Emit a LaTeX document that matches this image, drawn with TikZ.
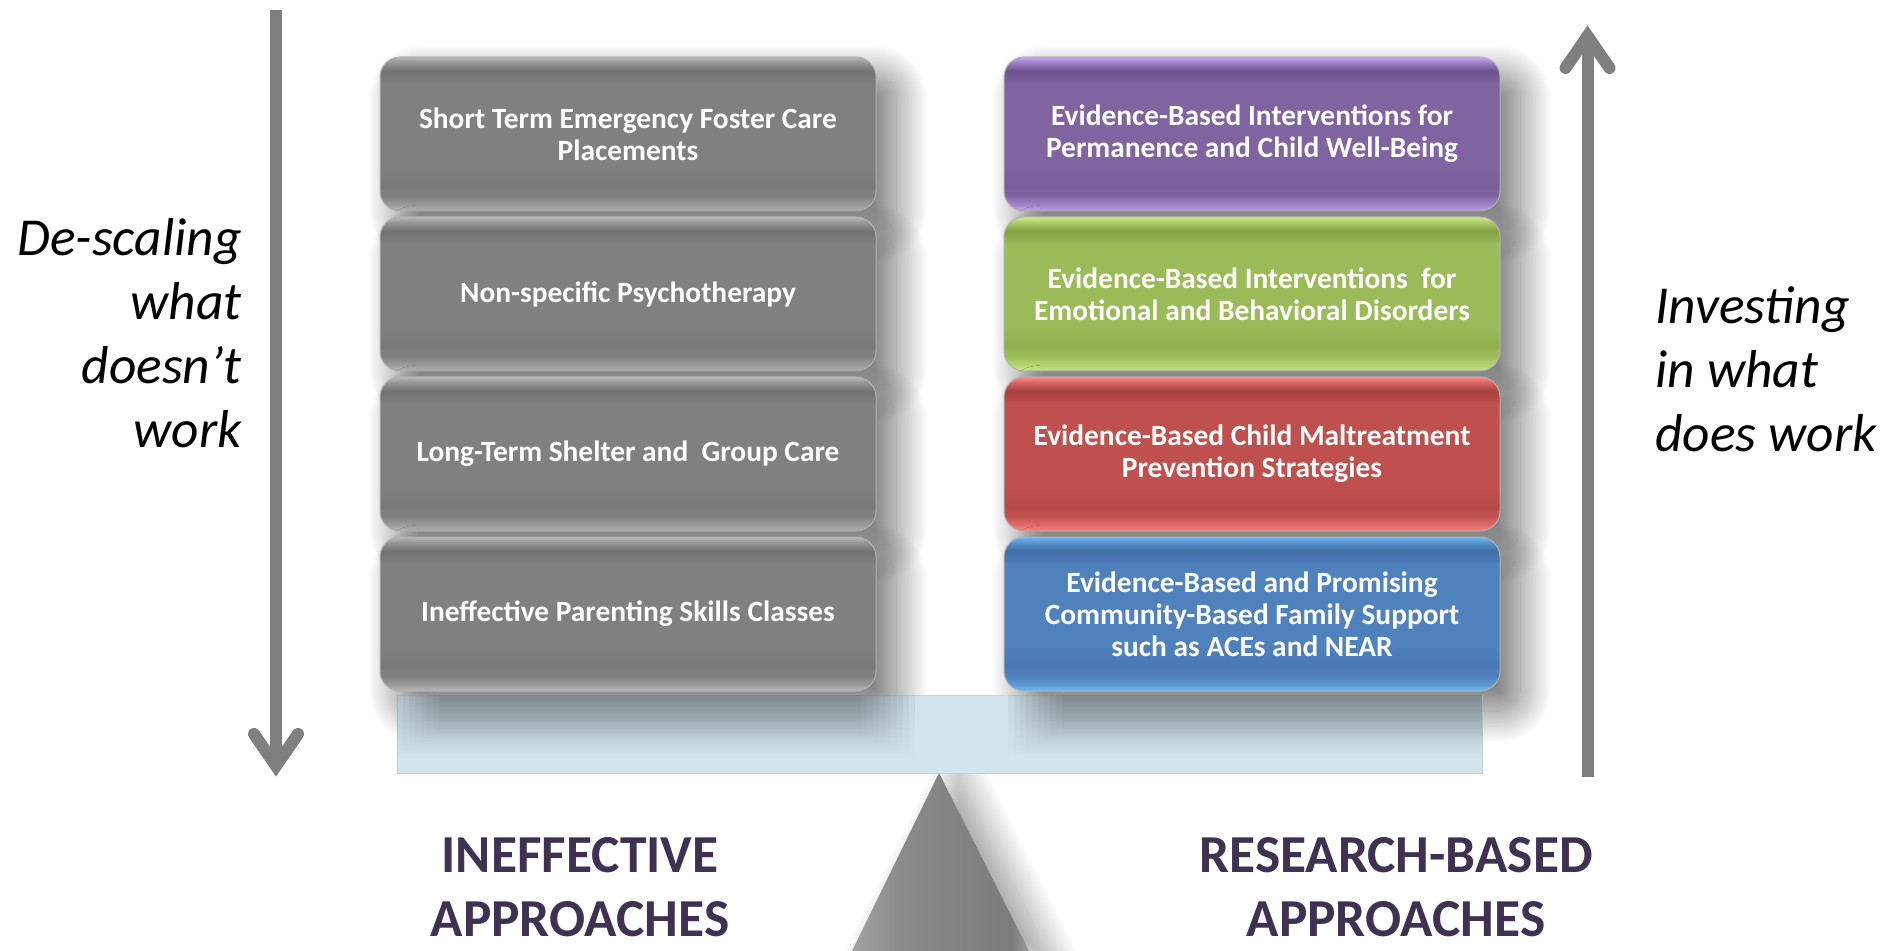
\documentclass[tikz,border=0pt]{standalone}
\usepackage{fontspec}
\setmainfont{Carlito}
\usetikzlibrary{shadows.blur,fadings}
\definecolor{arrowgray}{HTML}{7F7F7F}
\definecolor{labelpurple}{HTML}{3F3151}
\definecolor{beamblue}{HTML}{D3E4EB}
\definecolor{beamshadow}{HTML}{3E4548}
% glass colours: base, dark, rim
\definecolor{gBase}{HTML}{808080}\definecolor{gDark}{HTML}{717171}\definecolor{gRim}{HTML}{B8B8B8}
\definecolor{pBase}{HTML}{8064A2}\definecolor{pDark}{HTML}{6F5391}\definecolor{pRim}{HTML}{C8A8F8}
\definecolor{vBase}{HTML}{9BBB59}\definecolor{vDark}{HTML}{86A142}\definecolor{vRim}{HTML}{D2EE8C}
\definecolor{rBase}{HTML}{C0504D}\definecolor{rDark}{HTML}{A9403D}\definecolor{rRim}{HTML}{FF8A86}
\definecolor{bBase}{HTML}{4F81BD}\definecolor{bDark}{HTML}{406DA6}\definecolor{bRim}{HTML}{6CB8F2}
\newcommand\defglass[4]{%
  \pgfdeclareverticalshading{#1}{100bp}{color(0bp)=(#4); color(25bp)=(#4);
    color(27bp)=(#4!50!#2); color(30bp)=(#2); color(33bp)=(#3!40!#2);
    color(40bp)=(#2); color(66bp)=(#2); color(70.5bp)=(#3);
    color(73.3bp)=(#4!55!#3); color(75bp)=(#4); color(100bp)=(#4)}}
\defglass{glassgray}{gBase}{gDark}{gRim}
\defglass{glasspurple}{pBase}{pDark}{pRim}
\defglass{glassgreen}{vBase}{vDark}{vRim}
\defglass{glassred}{rBase}{rDark}{rRim}
\defglass{glassblue}{bBase}{bDark}{bRim}
\definecolor{py1}{HTML}{A2A2A2}\definecolor{py2}{HTML}{8C8C8C}
\definecolor{py3}{HTML}{848484}\definecolor{py4}{HTML}{7C7C7C}\definecolor{py5}{HTML}{9C9C9C}
\pgfdeclarehorizontalshading{pyramid}{100bp}{color(0bp)=(py1); color(25bp)=(py1);
  color(38bp)=(py2); color(50bp)=(py3); color(70bp)=(py4); color(75bp)=(py5); color(100bp)=(py5)}
\begin{document}
\begin{tikzpicture}[x=0.5pt,y=-0.5pt,
  box/.style={shape=rectangle, rounded corners=10pt, minimum width=248pt,
    minimum height=77pt, inner sep=0pt, align=center, text=white,
    font=\bfseries\fontsize{14.7}{15.9}\selectfont, draw=black!30,
    line width=0.5pt, shading=#1,
    blur shadow={shadow xshift=10pt, shadow yshift=-10pt, shadow blur radius=16pt,
      shadow blur steps=40, shadow opacity=55}},
  beamstyle/.style={shape=rectangle, fill=beamblue, draw=beamblue!92!black,
    line width=0.4pt, minimum width=542.5pt, minimum height=39pt, inner sep=0pt},
  beamshade/.style={fill=beamshadow, fill opacity=0.075, path fading=south},
  side/.style={font=\itshape\fontsize{26.7}{32}\selectfont, text=black, inner sep=0pt},
  bottomlab/.style={font=\bfseries\fontsize{26.7}{32}\selectfont, text=labelpurple,
    align=center, inner sep=0pt},
  shaft/.style={draw=arrowgray, line width=6pt},
  chevron/.style={draw=arrowgray, line width=6pt, line cap=round, line join=miter}
]
\useasboundingbox (0,0) rectangle (1888,951);

% arrows
\coordinate (ltop) at (276,10);
\coordinate (lbot) at (276,766);
\draw[shaft] (ltop) -- (lbot);
\draw[chevron] (lbot) ++(-22,-32) -- (lbot) -- ++(22,-32);
\coordinate (rbot) at (1587.5,777);
\coordinate (rtop) at (1587.5,36);
\draw[shaft] (rbot) -- (rtop);
\draw[chevron] (rtop) ++(-22,32) -- (rtop) -- ++(22,32);

% fulcrum
\coordinate (apex) at (939,773);
\coordinate (bl) at (852,951);
\coordinate (br) at (1029,951);
\path[shading=pyramid, blur shadow={shadow xshift=10pt, shadow yshift=-2pt,
    shadow blur radius=14pt, shadow blur steps=30, shadow opacity=40}]
  (apex) -- (bl) -- (br) -- cycle;

% left column
\node[box=glassgray] (l1) at (628,134) {Short Term Emergency Foster Care\\Placements};
\node[box=glassgray] (l2) at (628,294) {Non-specific Psychotherapy};
\node[box=glassgray] (l3) at (628,454) {Long-Term Shelter and~ Group Care};
\node[box=glassgray] (l4) at (628,614) {Ineffective Parenting Skills Classes};

% right column
\node[box=glasspurple] (r1) at (1252,134) {Evidence-Based Interventions for\\Permanence and Child Well-Being};
\node[box=glassgreen] (r2) at (1252,294) {Evidence-Based Interventions~ for\\Emotional and Behavioral Disorders};
\node[box=glassred] (r3) at (1252,454) {Evidence-Based Child Maltreatment\\Prevention Strategies};
\node[box=glassblue] (r4) at (1252,614) {Evidence-Based and Promising\\Community-Based Family Support\\such as ACEs and NEAR};

% beam with the columns' soft shadows on it
\node[beamstyle] (beam) at (939.5,734) {};
\begin{scope}
  \clip (beam.north west) rectangle (beam.south east);
  \foreach \i in {0,...,9} {
    \fill[beamshade] (385+6*\i,695) rectangle (915-6*\i,760-3*\i);
    \fill[beamshade] (1008+6*\i,695) rectangle (1538-6*\i,760-3*\i);
  }
\end{scope}

% side texts
\node[side, align=right, anchor=east] (desc) at (242,333) {De-scaling\\what\\doesn’t\\work};
\node[side, align=left, anchor=west] (inv) at (1655,369) {Investing\\in what\\does work};

% bottom labels
\node[bottomlab] (ineff) at (580,887) {INEFFECTIVE\\APPROACHES};
\node[bottomlab] (resb) at (1396,887) {RESEARCH-BASED\\APPROACHES};
\end{tikzpicture}
\end{document}
